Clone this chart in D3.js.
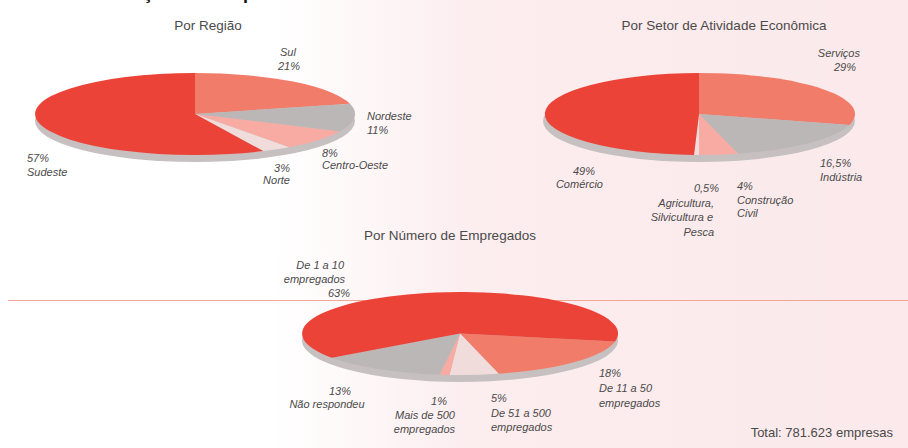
<!DOCTYPE html>
<html>
<head>
<meta charset="utf-8">
<script src="https://cdn.jsdelivr.net/npm/d3@7"></script>
<style>
  html, body { margin: 0; padding: 0; background: #fff; }
  svg { display: block; font-family: "Liberation Sans", Arial, sans-serif; }
</style>
</head>
<body>
<svg id="chart" width="908" height="448"></svg>
<script>
// ---- Data ----
const regiaoCategories = ["Sul", "Nordeste", "Centro-Oeste", "Norte", "Sudeste"];
const regiaoValues = [21, 11, 8, 3, 57];

const setorCategories = ["Serviços", "Indústria", "Construção Civil", "Agricultura, Silvicultura e Pesca", "Comércio"];
const setorValues = [29, 16.5, 4, 0.5, 49];

const empregadosCategories = ["De 11 a 50 empregados", "De 51 a 500 empregados", "Mais de 500 empregados", "Não respondeu", "De 1 a 10 empregados"];
const empregadosValues = [18, 5, 1, 13, 63];

const totalLabel = "Total: 781.623 empresas";

// ---- Styles ----
const RED = "#ec4338", SALMON = "#f27c6a", GRAY = "#bcb7b7", PINK = "#f7aba3", PALE = "#f1dcdc";
const SHADOW = "#c6c0c0";
const TEXT = "#4a4a4a";

const svg = d3.select("#chart");

// background
const defs = svg.append("defs");
const grad = defs.append("linearGradient").attr("id", "bg").attr("x1", "0").attr("x2", "1").attr("y1", "0").attr("y2", "0");
grad.append("stop").attr("offset", "0").attr("stop-color", "#ffffff");
grad.append("stop").attr("offset", "0.3").attr("stop-color", "#ffffff");
grad.append("stop").attr("offset", "0.52").attr("stop-color", "#fcedef");
grad.append("stop").attr("offset", "1").attr("stop-color", "#fbe9eb");
svg.append("rect").attr("width", 908).attr("height", 448).attr("fill", "url(#bg)");

// cut-off heading at the very top
svg.append("text").attr("x", 70).attr("y", -1)
  .attr("font-size", 18).attr("font-weight", "bold").attr("fill", "#111")
  .text("Distribuição das Empresas");

// thin red rule behind the lower pie
svg.append("line").attr("x1", 8).attr("x2", 908).attr("y1", 300.5).attr("y2", 300.5)
  .attr("stroke", "#f1a698").attr("stroke-width", 1);

function drawPie(cfg) {
  const g = svg.append("g");
  const pie = d3.pie().sort(null).value(d => d.v)
    .startAngle(cfg.start).endAngle(cfg.start + 2 * Math.PI);
  const arc = d3.arc().innerRadius(0).outerRadius(1);
  const data = cfg.values.map((v, i) => ({ v, c: cfg.cats[i], col: cfg.colors[i] }));
  // shadow / thickness
  g.append("ellipse")
    .attr("cx", cfg.cx).attr("cy", cfg.cy + 7)
    .attr("rx", cfg.rx).attr("ry", cfg.ry)
    .attr("fill", SHADOW);
  const pg = g.append("g").attr("transform", `translate(${cfg.cx},${cfg.cy}) scale(${cfg.rx},${cfg.ry})`);
  pg.selectAll("path").data(pie(data)).join("path")
    .attr("d", arc)
    .attr("fill", d => d.data.col);
  // title
  svg.append("text").attr("x", cfg.title.x).attr("y", cfg.title.y)
    .attr("text-anchor", "middle").attr("font-size", 13.5).attr("fill", TEXT)
    .text(cfg.title.t);
  // labels
  cfg.labels.forEach(l => {
    const t = svg.append("text").attr("x", l.x).attr("y", l.y)
      .attr("text-anchor", l.a || "start")
      .attr("font-size", 11).attr("font-style", "italic").attr("fill", TEXT);
    l.lines.forEach((s, i) => {
      t.append("tspan").attr("x", l.x + (l.dx ? l.dx[i] : 0)).attr("dy", i === 0 ? 0 : (l.lh || 14)).text(s);
    });
  });
}

drawPie({
  cx: 195, cy: 114, rx: 160, ry: 41, start: 0,
  cats: regiaoCategories, values: regiaoValues,
  colors: [SALMON, GRAY, PINK, PALE, RED],
  title: { t: "Por Região", x: 208, y: 30 },
  labels: [
    { x: 280, y: 56, lines: ["Sul", "21%"], dx: [0, -2] },
    { x: 367, y: 120, lines: ["Nordeste", "11%"] },
    { x: 322, y: 157, lines: ["8%", "Centro-Oeste"], lh: 12 },
    { x: 290, y: 172, a: "end", lines: ["3%", "Norte"], lh: 12 },
    { x: 27, y: 162, lines: ["57%", "Sudeste"] }
  ]
});

drawPie({
  cx: 699, cy: 114, rx: 156, ry: 41, start: 0,
  cats: setorCategories, values: setorValues,
  colors: [SALMON, GRAY, PINK, PALE, RED],
  title: { t: "Por Setor de Atividade Econômica", x: 724, y: 30 },
  labels: [
    { x: 860, y: 57, a: "end", lines: ["Serviços", "29%"], dx: [0, -4] },
    { x: 820, y: 167, lines: ["16,5%", "Indústria"] },
    { x: 603, y: 175, a: "end", lines: ["49%", "Comércio"], dx: [-8, 0], lh: 13 },
    { x: 714, y: 192, a: "end", lines: ["0,5%", "Agricultura,", "Silvicultura e", "Pesca"], dx: [5, 0, -1, 0], lh: 14.5 },
    { x: 737, y: 190, lines: ["4%", "Construção", "Civil"], lh: 13.5 }
  ]
});

drawPie({
  cx: 460, cy: 333.5, rx: 158, ry: 41.5, start: 101 * Math.PI / 180,
  cats: empregadosCategories, values: empregadosValues,
  colors: [SALMON, PALE, PINK, GRAY, RED],
  title: { t: "Por Número de Empregados", x: 450, y: 240 },
  labels: [
    { x: 345, y: 269, a: "end", lines: ["De 1 a 10", "empregados", "63%"], dx: [-1, 0, 5] },
    { x: 599, y: 377, lines: ["18%", "De 11 a 50", "empregados"], lh: 15 },
    { x: 340, y: 395, a: "middle", lines: ["13%", "Não respondeu"], dx: [0, -13], lh: 13 },
    { x: 455, y: 405, a: "end", lines: ["1%", "Mais de 500", "empregados"], dx: [-8, 0, 0], lh: 14 },
    { x: 491, y: 402, lines: ["5%", "De 51 a 500", "empregados"], lh: 14.5 }
  ]
});

svg.append("text").attr("x", 893).attr("y", 437).attr("text-anchor", "end")
  .attr("font-size", 13).attr("fill", TEXT).text(totalLabel);
</script>
</body>
</html>
